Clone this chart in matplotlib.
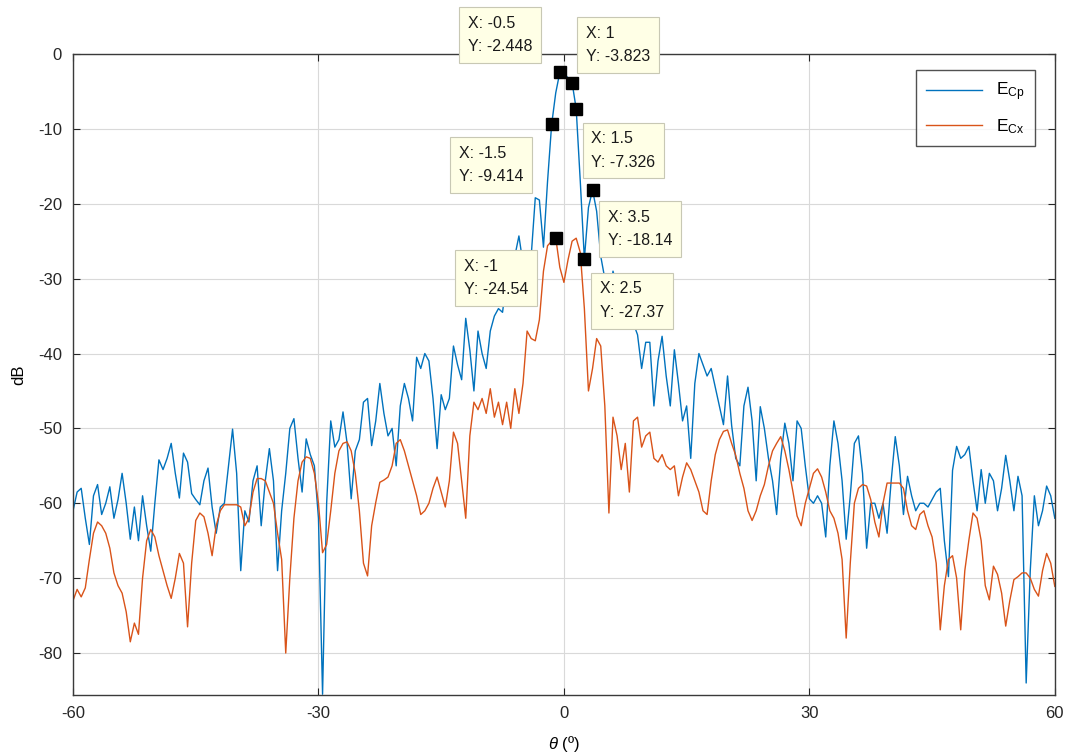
import numpy as np
import matplotlib
matplotlib.use('Agg')
import matplotlib.pyplot as plt

plt.rcParams['font.family'] = ['Liberation Sans', 'DejaVu Sans']
plt.rcParams['mathtext.fontset'] = 'custom'
plt.rcParams['mathtext.rm'] = 'Liberation Sans'
plt.rcParams['mathtext.it'] = 'Liberation Sans:italic'
plt.rcParams['axes.unicode_minus'] = False

# angle grid, 0.5 deg step
theta = np.arange(-60, 60.5, 0.5)

# co-polar pattern (dB)
e_cp = [
    -61, -58.5, -58, -62, -65.5, -59, -57.5, -61.5, -60, -57.8,          # -60 .. -55.5
    -62, -59.5, -56, -60, -64.8, -60.5, -65, -59, -63, -66.4,            # -55 .. -50.5
    -60, -54.2, -55.5, -54, -52, -56, -59.3, -53.3, -54.5, -58.7,        # -50 .. -45.5
    -59.5, -60.2, -57, -55.3, -60.5, -64, -60.5, -60, -55, -50.1,        # -45 .. -40.5
    -56, -69, -61, -62.5, -57, -55, -63, -57, -52.7, -57,                # -40 .. -35.5
    -69, -61, -56, -50, -48.7, -54, -58.5, -51.4, -53.5, -55,            # -35 .. -30.5
    -62, -85.5, -60, -49, -52.5, -51.5, -47.8, -52, -59.4, -53,          # -30 .. -25.5
    -51.5, -46.5, -46, -52.3, -49, -44, -48, -51, -50, -55,              # -25 .. -20.5
    -47, -44, -46, -49, -40.5, -42, -40, -41, -46, -52.7,                # -20 .. -15.5
    -45.5, -47.5, -46, -39, -41.5, -43.5, -35.3, -39.5, -45, -37,        # -15 .. -10.5
    -40, -42, -37, -35, -34, -34.5, -30, -28, -27, -24.3,                # -10 .. -5.5
    -28, -31, -27, -19.2, -19.5, -25.8, -17, -9.414, -5.2, -2.448,       # -5 .. -0.5
    -2.6, -3.2, -3.823, -7.326, -17, -27.37, -20.5, -18.14, -21, -27,    # 0 .. 4.5
    -30, -33, -29, -31, -35, -31, -33, -36, -37.5, -42,                  # 5 .. 9.5
    -38.5, -38.5, -47, -41, -37.7, -43, -47, -39.5, -44, -49,            # 10 .. 14.5
    -47, -54, -44, -40, -41.5, -43, -42, -44.5, -47, -49.5,              # 15 .. 19.5
    -43, -49.6, -54, -55, -47, -44.5, -49, -57, -47.1, -50,              # 20 .. 24.5
    -54, -57, -61.5, -54, -49.3, -52, -57, -49, -50, -55,                # 25 .. 29.5
    -59.4, -60, -59, -60, -64.5, -55, -49, -52, -57, -64.8,              # 30 .. 34.5
    -59, -52, -51, -56, -66, -60, -60, -62, -60, -64,                    # 35 .. 39.5
    -57, -51.1, -55, -61.5, -56.4, -59, -61, -60, -60, -60.5,            # 40 .. 44.5
    -59.5, -58.5, -58, -65, -69.8, -55.6, -52.4, -54, -53.5, -52.4,      # 45 .. 49.5
    -57, -61, -55.5, -60, -56, -57, -61, -58, -53.6, -57,                # 50 .. 54.5
    -61, -56.4, -59, -84, -69, -59, -63, -61, -57.7, -59,                # 55 .. 59.5
    -62,                                                                 # 60
]

# cross-polar pattern (dB)
e_cx = [
    -73, -71.5, -72.5, -71.3, -67.5, -64, -62.5, -63, -64, -66,          # -60 .. -55.5
    -69.3, -71, -72, -74.5, -78.5, -76, -77.5, -70, -65, -63.5,          # -55 .. -50.5
    -64.5, -67, -69, -71, -72.7, -70, -66.7, -68, -76.5, -68,            # -50 .. -45.5
    -62.3, -61.3, -61.8, -64, -67, -63, -61, -60.2, -60.2, -60.2,        # -45 .. -40.5
    -60.2, -60.5, -63, -62, -58.5, -56.7, -56.7, -57, -58.5, -60,        # -40 .. -35.5
    -64, -67.5, -80, -70, -62, -57, -54.5, -53.8, -54, -56,              # -35 .. -30.5
    -60, -66.6, -65.5, -61, -56, -53, -52, -51.8, -53, -56,              # -30 .. -25.5
    -61, -68, -69.7, -63, -59.9, -57.2, -56.9, -56.5, -55, -52,          # -25 .. -20.5
    -51.5, -53, -55, -57, -59, -61.5, -61, -60, -58, -56.5,              # -20 .. -15.5
    -58.5, -60.5, -57, -50.5, -52, -57, -62, -51, -46.5, -47.5,          # -15 .. -10.5
    -46, -48, -44.7, -48.5, -46.5, -49.5, -46.5, -50, -44.7, -48,        # -10 .. -5.5
    -44, -37, -38, -38.3, -35.5, -29, -25.6, -25, -24.54, -28.5,         # -5 .. -0.5
    -30.5, -27.5, -25, -24.6, -26.5, -34, -45, -42, -38, -39,            # 0 .. 4.5
    -47, -61.3, -48.5, -51, -55.5, -52, -58.5, -49, -48.5, -52.5,        # 5 .. 9.5
    -51, -50.5, -54, -54.5, -53.5, -55, -55.5, -55, -59, -56.5,          # 10 .. 14.5
    -54.6, -55.5, -57, -58.5, -61, -61.5, -57, -53.5, -51.5, -50.4,      # 15 .. 19.5
    -50.2, -52, -53.6, -56, -58, -61, -62.3, -61, -59, -57.5,            # 20 .. 24.5
    -55, -53, -52, -51.1, -53, -55.5, -58.5, -61.7, -63, -60,            # 25 .. 29.5
    -58, -56, -55.4, -56.5, -58.5, -61, -62, -64, -67.5, -78,            # 30 .. 34.5
    -68, -60, -58, -57.5, -57.7, -59.5, -62.5, -64.5, -60, -57.3,        # 35 .. 39.5
    -57.3, -57.3, -57.3, -58, -61, -63, -63.5, -61.5, -61, -63,          # 40 .. 44.5
    -64.5, -68, -76.9, -71, -67.5, -67, -70, -76.9, -69, -64.9,          # 45 .. 49.5
    -61.3, -62, -65, -71, -72.9, -68.4, -69.5, -72, -76.4, -73,          # 50 .. 54.5
    -70.2, -69.8, -69.3, -69.3, -70, -71.5, -72.4, -69, -66.7, -68,      # 55 .. 59.5
    -71.1,                                                               # 60
]

# data tips shown on the figure
tip_x = [-0.5, 1, -1.5, 1.5, 3.5, -1, 2.5]
tip_y = [-2.448, -3.823, -9.414, -7.326, -18.14, -24.54, -27.37]
tip_offset = [(-66, 27), (10, 27), (-67, -29), (11, -30), (11, -28), (-66, -29), (11, -30)]

fig = plt.figure(figsize=(10.66, 7.55), dpi=100)
ax = fig.add_axes([0.0685, 0.0795, 0.921, 0.849])

ax.plot(theta, e_cp, color='#0072BD', lw=1.0, label=r'E$_{\mathrm{Cp}}$')
ax.plot(theta, e_cx, color='#D95319', lw=1.0, label=r'E$_{\mathrm{Cx}}$')

ax.set_xlim(-60, 60)
ax.set_ylim(-85.6, 0)
ax.set_xticks([-60, -30, 0, 30, 60])
ax.set_yticks(np.arange(-80, 1, 10))
ax.grid(True, color='#d9d9d9', lw=0.8)
ax.set_axisbelow(True)
for s in ax.spines.values():
    s.set_color('#3a3a3a')
    s.set_linewidth(1.0)
ax.tick_params(direction='in', top=True, right=True, length=5,
               labelsize=12, colors='#262626', pad=8)

ax.set_xlabel(r'$\theta$ (º)', fontsize=12, labelpad=9)
ax.set_ylabel('dB', fontsize=12, labelpad=8)

leg = ax.legend(loc='upper right', bbox_to_anchor=(0.9885, 0.988), fontsize=12.5,
                frameon=True, fancybox=False, edgecolor='#262626',
                handlelength=3.2, borderpad=0.6, labelspacing=0.8)
leg.get_frame().set_linewidth(1.0)

for x, y, off in zip(tip_x, tip_y, tip_offset):
    ax.annotate(f'X: {x:g}\nY: {y:g}', xy=(x, y), xytext=off,
                textcoords='offset points', ha='left', va='center',
                fontsize=11.5, linespacing=1.7, color='#1a1a1a',
                bbox=dict(boxstyle='square,pad=0.55', fc='#ffffe6',
                          ec='#c8c8b4', lw=0.8),
                annotation_clip=False, zorder=5)
ax.plot(tip_x, tip_y, 's', color='black', ms=8.5, zorder=6)

fig.savefig('out.png', dpi=100)
